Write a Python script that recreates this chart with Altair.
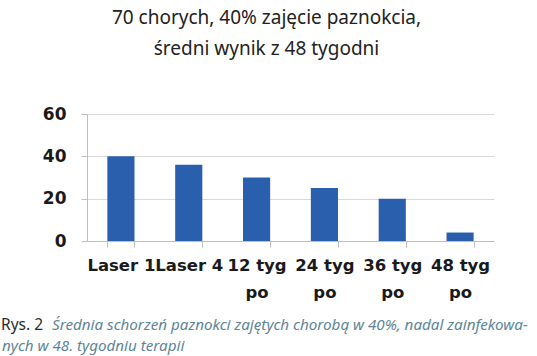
import altair as alt
import pandas as pd

categories = ["Laser 1", "Laser 4", "12 tyg po", "24 tyg po", "36 tyg po", "48 tyg po"]
values = [40, 36, 30, 25, 20, 4]
y_ticks = [0, 20, 40, 60]

title_lines = ["70 chorych, 40% zajęcie paznokcia,", "średni wynik z 48 tygodni"]
caption_label = "Rys. 2"
caption_line1 = "Średnia schorzeń paznokci zajętych chorobą w 40%, nadal zainfekowa-"
caption_line2 = "nych w 48. tygodniu terapii"

df = pd.DataFrame({"cat": categories, "val": values})

W, H = 407, 127
LEFT, TOP = 87, 114

label_expr = ("indexof(datum.label, ' po') > 0 ? "
              "[replace(datum.label, ' po', ''), 'po'] : datum.label")

bars = alt.Chart(df).mark_bar(color="#2a5fad").encode(
    x=alt.X("cat:N", sort=categories, title=None,
            scale=alt.Scale(paddingInner=0.6, paddingOuter=0.3),
            axis=alt.Axis(labelAngle=0, tickBand="extent", labelExpr=label_expr,
                          labelFont="DejaVu Sans", labelFontWeight="bold",
                          labelFontSize=16.5, labelColor="#1a1a1a",
                          labelLineHeight=27, labelPadding=10, tickSize=6,
                          tickColor="#bfbfbf", domainColor="#bfbfbf",
                          labelOverlap=False, labelBound=False)),
    y=alt.Y("val:Q", title=None,
            scale=alt.Scale(domain=[0, 60], nice=False),
            axis=alt.Axis(values=y_ticks, labelFont="DejaVu Sans",
                          labelFontWeight="bold", labelFontSize=17,
                          labelColor="#1a1a1a", labelPadding=15, tickSize=6,
                          tickColor="#bfbfbf", domainColor="#bfbfbf",
                          gridColor="#d9d9d9", grid=True)),
)

cap_df1 = pd.DataFrame({"t": [caption_label]})
cap_df2 = pd.DataFrame({"t": [caption_line1]})
cap_df3 = pd.DataFrame({"t": [caption_line2]})

cap_label = alt.Chart(cap_df1).mark_text(
    align="left", baseline="alphabetic", font="Noto Sans", fontSize=15.5,
    color="#2b2b2b").encode(text="t:N", x=alt.value(1 - LEFT), y=alt.value(330 - TOP))
cap_1 = alt.Chart(cap_df2).mark_text(
    align="left", baseline="alphabetic", font="Noto Sans", fontSize=15.2,
    fontStyle="italic", color="#5d8597").encode(
    text="t:N", x=alt.value(52 - LEFT), y=alt.value(330 - TOP))
cap_2 = alt.Chart(cap_df3).mark_text(
    align="left", baseline="alphabetic", font="Noto Sans", fontSize=15.2,
    fontStyle="italic", color="#5d8597").encode(
    text="t:N", x=alt.value(2 - LEFT), y=alt.value(351 - TOP))

chart = alt.layer(bars, cap_label, cap_1, cap_2).properties(
    width=W, height=H,
    autosize=alt.AutoSizeParams(type="none"),
    padding={"left": LEFT, "top": TOP, "right": 537 - LEFT - W, "bottom": 356 - TOP - H},
    title=alt.Title(title_lines, font="Noto Sans", fontSize=19, fontWeight="normal",
                    color="#222222", anchor="middle", dx=-24, offset=46,
                    lineHeight=31),
).configure_view(stroke=None)

chart.save("out.html", embed_options={"renderer": "svg", "actions": False})
